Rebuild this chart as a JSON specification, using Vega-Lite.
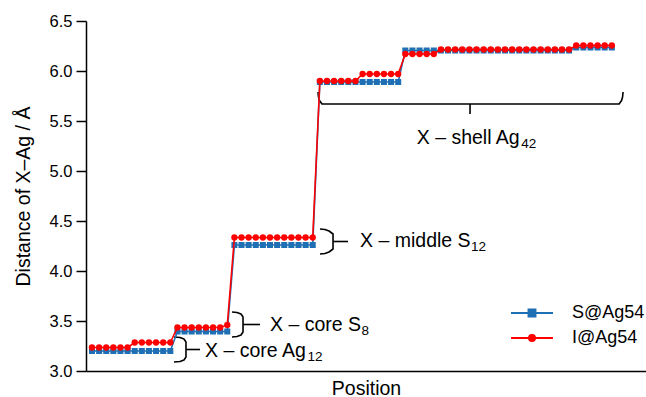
{
  "$schema": "https://vega.github.io/schema/vega-lite/v6.json",
  "width": 560,
  "height": 350,
  "autosize": "none",
  "padding": {"left": 86, "top": 21, "right": 0, "bottom": 26},
  "config": {
    "view": {"stroke": null},
    "font": "Liberation Sans",
    "axis": {
      "grid": false,
      "domainColor": "black",
      "domainWidth": 1.5,
      "tickColor": "black",
      "tickWidth": 1.5,
      "labelColor": "black",
      "titleColor": "black",
      "labelFontSize": 16.5,
      "titleFontSize": 19.5,
      "titleFontWeight": "normal"
    }
  },
  "datasets": {
    "dist": [
      {"pos":0,"series":"S@Ag54","dist":3.2},{"pos":1,"series":"S@Ag54","dist":3.2},{"pos":2,"series":"S@Ag54","dist":3.2},{"pos":3,"series":"S@Ag54","dist":3.2},{"pos":4,"series":"S@Ag54","dist":3.2},{"pos":5,"series":"S@Ag54","dist":3.2},
      {"pos":6,"series":"S@Ag54","dist":3.2},{"pos":7,"series":"S@Ag54","dist":3.2},{"pos":8,"series":"S@Ag54","dist":3.2},{"pos":9,"series":"S@Ag54","dist":3.2},{"pos":10,"series":"S@Ag54","dist":3.2},{"pos":11,"series":"S@Ag54","dist":3.2},
      {"pos":12,"series":"S@Ag54","dist":3.395},{"pos":13,"series":"S@Ag54","dist":3.395},{"pos":14,"series":"S@Ag54","dist":3.395},{"pos":15,"series":"S@Ag54","dist":3.395},{"pos":16,"series":"S@Ag54","dist":3.395},{"pos":17,"series":"S@Ag54","dist":3.395},{"pos":18,"series":"S@Ag54","dist":3.395},{"pos":19,"series":"S@Ag54","dist":3.395},
      {"pos":20,"series":"S@Ag54","dist":4.26},{"pos":21,"series":"S@Ag54","dist":4.26},{"pos":22,"series":"S@Ag54","dist":4.26},{"pos":23,"series":"S@Ag54","dist":4.26},{"pos":24,"series":"S@Ag54","dist":4.26},{"pos":25,"series":"S@Ag54","dist":4.26},
      {"pos":26,"series":"S@Ag54","dist":4.26},{"pos":27,"series":"S@Ag54","dist":4.26},{"pos":28,"series":"S@Ag54","dist":4.26},{"pos":29,"series":"S@Ag54","dist":4.26},{"pos":30,"series":"S@Ag54","dist":4.26},{"pos":31,"series":"S@Ag54","dist":4.26},
      {"pos":32,"series":"S@Ag54","dist":5.89},{"pos":33,"series":"S@Ag54","dist":5.89},{"pos":34,"series":"S@Ag54","dist":5.89},{"pos":35,"series":"S@Ag54","dist":5.89},{"pos":36,"series":"S@Ag54","dist":5.89},{"pos":37,"series":"S@Ag54","dist":5.89},
      {"pos":38,"series":"S@Ag54","dist":5.89},{"pos":39,"series":"S@Ag54","dist":5.89},{"pos":40,"series":"S@Ag54","dist":5.89},{"pos":41,"series":"S@Ag54","dist":5.89},{"pos":42,"series":"S@Ag54","dist":5.89},{"pos":43,"series":"S@Ag54","dist":5.89},
      {"pos":44,"series":"S@Ag54","dist":6.205},{"pos":45,"series":"S@Ag54","dist":6.205},{"pos":46,"series":"S@Ag54","dist":6.205},{"pos":47,"series":"S@Ag54","dist":6.205},{"pos":48,"series":"S@Ag54","dist":6.205},{"pos":49,"series":"S@Ag54","dist":6.205},
      {"pos":50,"series":"S@Ag54","dist":6.205},{"pos":51,"series":"S@Ag54","dist":6.205},{"pos":52,"series":"S@Ag54","dist":6.205},{"pos":53,"series":"S@Ag54","dist":6.205},{"pos":54,"series":"S@Ag54","dist":6.205},{"pos":55,"series":"S@Ag54","dist":6.205},
      {"pos":56,"series":"S@Ag54","dist":6.205},{"pos":57,"series":"S@Ag54","dist":6.205},{"pos":58,"series":"S@Ag54","dist":6.205},{"pos":59,"series":"S@Ag54","dist":6.205},{"pos":60,"series":"S@Ag54","dist":6.205},{"pos":61,"series":"S@Ag54","dist":6.205},
      {"pos":62,"series":"S@Ag54","dist":6.205},{"pos":63,"series":"S@Ag54","dist":6.205},{"pos":64,"series":"S@Ag54","dist":6.205},{"pos":65,"series":"S@Ag54","dist":6.205},{"pos":66,"series":"S@Ag54","dist":6.205},{"pos":67,"series":"S@Ag54","dist":6.205},
      {"pos":68,"series":"S@Ag54","dist":6.235},{"pos":69,"series":"S@Ag54","dist":6.235},{"pos":70,"series":"S@Ag54","dist":6.235},{"pos":71,"series":"S@Ag54","dist":6.235},{"pos":72,"series":"S@Ag54","dist":6.235},{"pos":73,"series":"S@Ag54","dist":6.235},

      {"pos":0,"series":"I@Ag54","dist":3.235},{"pos":1,"series":"I@Ag54","dist":3.235},{"pos":2,"series":"I@Ag54","dist":3.235},{"pos":3,"series":"I@Ag54","dist":3.235},{"pos":4,"series":"I@Ag54","dist":3.235},{"pos":5,"series":"I@Ag54","dist":3.235},
      {"pos":6,"series":"I@Ag54","dist":3.285},{"pos":7,"series":"I@Ag54","dist":3.285},{"pos":8,"series":"I@Ag54","dist":3.285},{"pos":9,"series":"I@Ag54","dist":3.285},{"pos":10,"series":"I@Ag54","dist":3.285},{"pos":11,"series":"I@Ag54","dist":3.285},
      {"pos":12,"series":"I@Ag54","dist":3.435},{"pos":13,"series":"I@Ag54","dist":3.435},{"pos":14,"series":"I@Ag54","dist":3.435},{"pos":15,"series":"I@Ag54","dist":3.435},{"pos":16,"series":"I@Ag54","dist":3.435},{"pos":17,"series":"I@Ag54","dist":3.435},{"pos":18,"series":"I@Ag54","dist":3.435},{"pos":19,"series":"I@Ag54","dist":3.46},
      {"pos":20,"series":"I@Ag54","dist":4.335},{"pos":21,"series":"I@Ag54","dist":4.335},{"pos":22,"series":"I@Ag54","dist":4.335},{"pos":23,"series":"I@Ag54","dist":4.335},{"pos":24,"series":"I@Ag54","dist":4.335},{"pos":25,"series":"I@Ag54","dist":4.335},
      {"pos":26,"series":"I@Ag54","dist":4.335},{"pos":27,"series":"I@Ag54","dist":4.335},{"pos":28,"series":"I@Ag54","dist":4.335},{"pos":29,"series":"I@Ag54","dist":4.335},{"pos":30,"series":"I@Ag54","dist":4.335},{"pos":31,"series":"I@Ag54","dist":4.335},
      {"pos":32,"series":"I@Ag54","dist":5.9},{"pos":33,"series":"I@Ag54","dist":5.9},{"pos":34,"series":"I@Ag54","dist":5.9},{"pos":35,"series":"I@Ag54","dist":5.9},{"pos":36,"series":"I@Ag54","dist":5.9},{"pos":37,"series":"I@Ag54","dist":5.9},
      {"pos":38,"series":"I@Ag54","dist":5.97},{"pos":39,"series":"I@Ag54","dist":5.97},{"pos":40,"series":"I@Ag54","dist":5.97},{"pos":41,"series":"I@Ag54","dist":5.97},{"pos":42,"series":"I@Ag54","dist":5.97},{"pos":43,"series":"I@Ag54","dist":5.97},
      {"pos":44,"series":"I@Ag54","dist":6.17},{"pos":45,"series":"I@Ag54","dist":6.17},{"pos":46,"series":"I@Ag54","dist":6.17},{"pos":47,"series":"I@Ag54","dist":6.17},{"pos":48,"series":"I@Ag54","dist":6.17},
      {"pos":49,"series":"I@Ag54","dist":6.215},{"pos":50,"series":"I@Ag54","dist":6.215},{"pos":51,"series":"I@Ag54","dist":6.215},{"pos":52,"series":"I@Ag54","dist":6.215},{"pos":53,"series":"I@Ag54","dist":6.215},{"pos":54,"series":"I@Ag54","dist":6.215},
      {"pos":55,"series":"I@Ag54","dist":6.215},{"pos":56,"series":"I@Ag54","dist":6.215},{"pos":57,"series":"I@Ag54","dist":6.215},{"pos":58,"series":"I@Ag54","dist":6.215},{"pos":59,"series":"I@Ag54","dist":6.215},{"pos":60,"series":"I@Ag54","dist":6.215},
      {"pos":61,"series":"I@Ag54","dist":6.215},{"pos":62,"series":"I@Ag54","dist":6.215},{"pos":63,"series":"I@Ag54","dist":6.215},{"pos":64,"series":"I@Ag54","dist":6.215},{"pos":65,"series":"I@Ag54","dist":6.215},{"pos":66,"series":"I@Ag54","dist":6.215},{"pos":67,"series":"I@Ag54","dist":6.215},
      {"pos":68,"series":"I@Ag54","dist":6.255},{"pos":69,"series":"I@Ag54","dist":6.255},{"pos":70,"series":"I@Ag54","dist":6.255},{"pos":71,"series":"I@Ag54","dist":6.255},{"pos":72,"series":"I@Ag54","dist":6.255},{"pos":73,"series":"I@Ag54","dist":6.255}
    ],
    "braces": [
      {"b":"ag12","k":0,"pos":11.52,"dist":3.34},{"b":"ag12","k":1,"pos":12.36,"dist":3.335},{"b":"ag12","k":2,"pos":12.92,"dist":3.32},{"b":"ag12","k":3,"pos":13.2,"dist":3.29},
      {"b":"ag12","k":4,"pos":13.2,"dist":3.14},{"b":"ag12","k":5,"pos":12.92,"dist":3.11},{"b":"ag12","k":6,"pos":12.36,"dist":3.095},{"b":"ag12","k":7,"pos":11.52,"dist":3.09},
      {"b":"ag12-stem","k":0,"pos":13.2,"dist":3.215},{"b":"ag12-stem","k":1,"pos":15.17,"dist":3.215},
      {"b":"s8","k":0,"pos":19.66,"dist":3.59},{"b":"s8","k":1,"pos":20.37,"dist":3.585},{"b":"s8","k":2,"pos":20.93,"dist":3.57},{"b":"s8","k":3,"pos":21.21,"dist":3.54},
      {"b":"s8","k":4,"pos":21.21,"dist":3.39},{"b":"s8","k":5,"pos":20.93,"dist":3.36},{"b":"s8","k":6,"pos":20.37,"dist":3.345},{"b":"s8","k":7,"pos":19.66,"dist":3.34},
      {"b":"s8-stem","k":0,"pos":21.21,"dist":3.465},{"b":"s8-stem","k":1,"pos":23.6,"dist":3.465},
      {"b":"s12","k":0,"pos":32.02,"dist":4.42},{"b":"s12","k":1,"pos":32.72,"dist":4.415},{"b":"s12","k":2,"pos":33.29,"dist":4.4},{"b":"s12","k":3,"pos":33.85,"dist":4.37},
      {"b":"s12","k":4,"pos":33.85,"dist":4.22},{"b":"s12","k":5,"pos":33.29,"dist":4.19},{"b":"s12","k":6,"pos":32.72,"dist":4.175},{"b":"s12","k":7,"pos":32.02,"dist":4.17},
      {"b":"s12-stem","k":0,"pos":33.85,"dist":4.295},{"b":"s12-stem","k":1,"pos":35.96,"dist":4.295},
      {"b":"shell","k":0,"pos":31.74,"dist":5.79},{"b":"shell","k":1,"pos":31.81,"dist":5.74},{"b":"shell","k":2,"pos":31.95,"dist":5.705},{"b":"shell","k":3,"pos":32.3,"dist":5.67},
      {"b":"shell","k":4,"pos":74.02,"dist":5.67},{"b":"shell","k":5,"pos":74.37,"dist":5.705},{"b":"shell","k":6,"pos":74.51,"dist":5.74},{"b":"shell","k":7,"pos":74.58,"dist":5.79},
      {"b":"shell-stem","k":0,"pos":53.09,"dist":5.67},{"b":"shell-stem","k":1,"pos":53.09,"dist":5.57}
    ],
    "notes": [
      {"t":"X – core Ag","pos":15.87,"dist":3.2},
      {"t":"X – core S","pos":25.0,"dist":3.46},
      {"t":"X – middle S","pos":37.64,"dist":4.3},
      {"t":"X – shell Ag","pos":45.6,"dist":5.33}
    ],
    "subs": [
      {"t":"12","pos":30.27,"dist":3.14},
      {"t":"8","pos":37.85,"dist":3.4},
      {"t":"12","pos":53.23,"dist":4.24},
      {"t":"42","pos":60.28,"dist":5.27}
    ]
  },
  "encoding": {
    "x": {
      "field": "pos",
      "type": "quantitative",
      "title": "Position",
      "scale": {"domain": [-0.84, 77.8], "nice": false, "zero": false},
      "axis": {"ticks": false, "labels": false, "titlePadding": 8}
    },
    "y": {
      "field": "dist",
      "type": "quantitative",
      "title": "Distance of X–Ag / Å",
      "scale": {"domain": [3.0, 6.5], "nice": false, "zero": false},
      "axis": {"values": [3.0, 3.5, 4.0, 4.5, 5.0, 5.5, 6.0, 6.5], "format": ".1f", "tickSize": 10, "labelPadding": 4, "titlePadding": 16}
    }
  },
  "layer": [
    {
      "data": {"name": "braces"},
      "mark": {"type": "line", "color": "black", "strokeWidth": 1.6, "strokeJoin": "round"},
      "encoding": {"detail": {"field": "b"}, "order": {"field": "k", "type": "quantitative"}}
    },
    {
      "data": {"name": "notes"},
      "mark": {"type": "text", "align": "left", "baseline": "middle", "fontSize": 19.5, "color": "black"},
      "encoding": {"text": {"field": "t"}}
    },
    {
      "data": {"name": "subs"},
      "mark": {"type": "text", "align": "left", "baseline": "middle", "fontSize": 13.5, "color": "black"},
      "encoding": {"text": {"field": "t"}}
    },
    {
      "data": {"name": "dist"},
      "transform": [{"filter": "datum.series === 'S@Ag54'"}],
      "mark": {"type": "line", "strokeWidth": 1.6},
      "encoding": {
        "order": {"field": "pos", "type": "quantitative"},
        "color": {
          "field": "series",
          "type": "nominal",
          "scale": {"domain": ["S@Ag54", "I@Ag54"], "range": ["#1f6fb4", "#ff0000"]},
          "legend": {
            "title": null,
            "orient": "none",
            "legendX": 430,
            "legendY": 276,
            "padding": 0,
            "symbolSize": 900,
            "symbolStrokeWidth": 2,
            "labelFontSize": 18,
            "labelColor": "black",
            "labelOffset": 24,
            "rowPadding": 0,
            "encode": {
              "symbols": {
                "update": {
                  "shape": {"signal": "datum.value === 'S@Ag54' ? 'M-1.4,0H1.4M-0.23,-0.23H0.23V0.23H-0.23Z' : 'M-1.4,0H1.4M0.2,0A0.2,0.2,0,1,1,-0.2,0A0.2,0.2,0,1,1,0.2,0Z'"},
                  "fill": {"signal": "datum.value === 'S@Ag54' ? '#1f6fb4' : '#ff0000'"},
                  "stroke": {"signal": "datum.value === 'S@Ag54' ? '#1f6fb4' : '#ff0000'"},
                  "strokeWidth": {"value": 2},
                  "opacity": {"value": 1}
                }
              }
            }
          }
        }
      }
    },
    {
      "data": {"name": "dist"},
      "transform": [{"filter": "datum.series === 'S@Ag54'"}],
      "mark": {"type": "point", "shape": "square", "filled": true, "size": 36, "opacity": 1},
      "encoding": {"color": {"field": "series", "type": "nominal"}}
    },
    {
      "data": {"name": "dist"},
      "transform": [{"filter": "datum.series === 'I@Ag54'"}],
      "mark": {"type": "line", "strokeWidth": 1.6},
      "encoding": {
        "order": {"field": "pos", "type": "quantitative"},
        "color": {"field": "series", "type": "nominal"}
      }
    },
    {
      "data": {"name": "dist"},
      "transform": [{"filter": "datum.series === 'I@Ag54'"}],
      "mark": {"type": "point", "shape": "circle", "filled": true, "size": 40, "opacity": 1},
      "encoding": {"color": {"field": "series", "type": "nominal"}}
    }
  ]
}
